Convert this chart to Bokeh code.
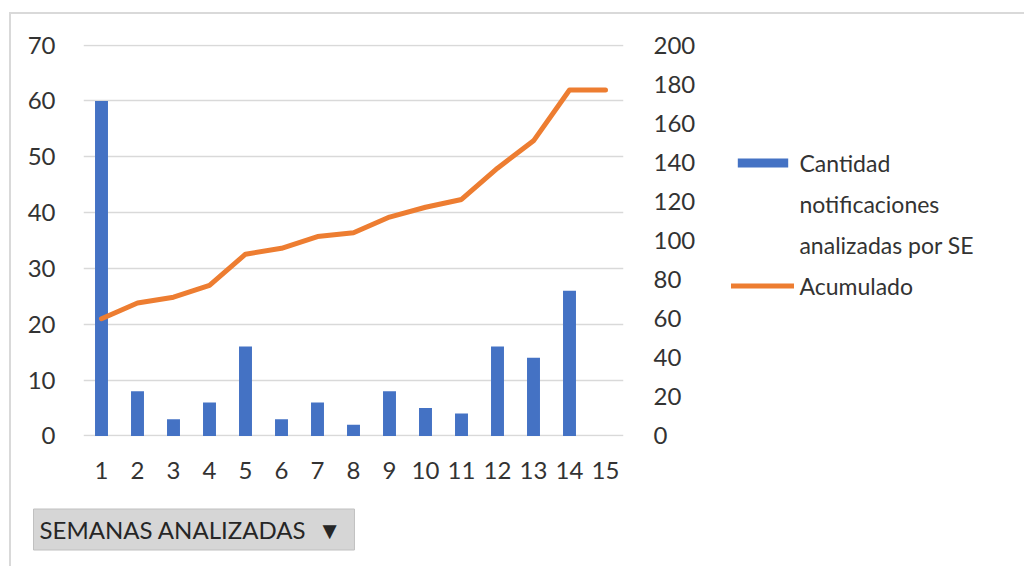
from bokeh.plotting import figure
from bokeh.models import (Range1d, LinearAxis, FixedTicker, Legend, LegendItem,
                          Title, ColumnDataSource)
from bokeh.embed import file_html
from bokeh.resources import INLINE

# ---- data ----
semanas = [1, 2, 3, 4, 5, 6, 7, 8, 9, 10, 11, 12, 13, 14, 15]
cantidad = [60, 8, 3, 6, 16, 3, 6, 2, 8, 5, 4, 16, 14, 26, 0]
acumulado = [60, 68, 71, 77, 93, 96, 102, 104, 112, 117, 121, 137, 151, 177, 177]
left_ticks = [0, 10, 20, 30, 40, 50, 60, 70]
right_ticks = [0, 20, 40, 60, 80, 100, 120, 140, 160, 180, 200]
serie_barras = ["Cantidad", "notificaciones", "analizadas por SE"]
serie_linea = "Acumulado"
boton = "SEMANAS ANALIZADAS\u00A0\u00A0\u25BC\u00A0"

FONT = "Lato"
TXT = "#333333"
BLUE = "#4472C4"
ORANGE = "#ED7D31"

src = ColumnDataSource(dict(x=semanas, c=cantidad, a=acumulado))

p = figure(frame_width=540, frame_height=392, output_backend="svg",
           toolbar_location=None,
           x_range=Range1d(0.5, 15.5), y_range=Range1d(-0.1, 70.1),
           min_border_left=72, min_border_top=30, min_border_right=387,
           min_border_bottom=108)
p.styles = {"margin-left": "9px", "margin-top": "12px",
            "border-top": "2px solid #d9d9d9", "border-left": "2px solid #d9d9d9"}
p.outline_line_color = None
p.background_fill_color = "white"
p.border_fill_color = "white"

p.extra_y_ranges = {"right": Range1d(-0.1 * 200 / 70, 200 + 0.1 * 200 / 70)}

bars = p.vbar(x="x", top="c", width=0.36, source=src, color=BLUE, line_color=None)
ln = p.line(x="x", y="a", source=src, y_range_name="right", line_color=ORANGE,
            line_width=5, line_join="round", line_cap="round")
# renderer without data, only used so that the wrapped legend lines have no swatch
blank = p.scatter(x=[], y=[], size=0, fill_alpha=0, line_alpha=0)

# axes
p.yaxis.ticker = FixedTicker(ticks=left_ticks)
p.xaxis.ticker = FixedTicker(ticks=semanas)
ax_r = LinearAxis(y_range_name="right", ticker=FixedTicker(ticks=right_ticks))
p.add_layout(ax_r, "right")

for ax in [p.xaxis[0], p.yaxis[0], ax_r]:
    ax.axis_line_color = None
    ax.major_tick_line_color = None
    ax.minor_tick_line_color = None
    ax.major_label_text_font = FONT
    ax.major_label_text_font_size = "24px"
    ax.major_label_text_color = TXT
p.yaxis[0].major_label_standoff = 22
ax_r.major_label_standoff = 24
p.xaxis[0].major_label_standoff = 19

p.xgrid.grid_line_color = None
p.ygrid.grid_line_color = "#d9d9d9"
p.ygrid.grid_line_width = 1.5

# legend in the right panel
items = [LegendItem(label=serie_barras[0], renderers=[bars]),
         LegendItem(label=serie_barras[1], renderers=[blank]),
         LegendItem(label=serie_barras[2], renderers=[blank]),
         LegendItem(label=serie_linea, renderers=[ln])]
legend = Legend(items=items, location=(-186, 130), orientation="vertical",
                glyph_width=63, glyph_height=11, label_standoff=5,
                label_height=41, spacing=0, padding=0, margin=0,
                border_line_color=None, background_fill_alpha=0,
                label_text_font=FONT, label_text_font_size="23px",
                label_text_color=TXT)
p.add_layout(legend, "right")

# dropdown-like button below the axis
btn = Title(text=boton, align="left", offset=-50, standoff=51,
            text_font=FONT, text_font_size="24px", text_font_style="normal",
            text_color="#262626", background_fill_color="#d6d6d6",
            border_line_color="#c0c0c0", padding=6)
p.add_layout(btn, "below")

open("out.html", "w").write(file_html(p, INLINE))
